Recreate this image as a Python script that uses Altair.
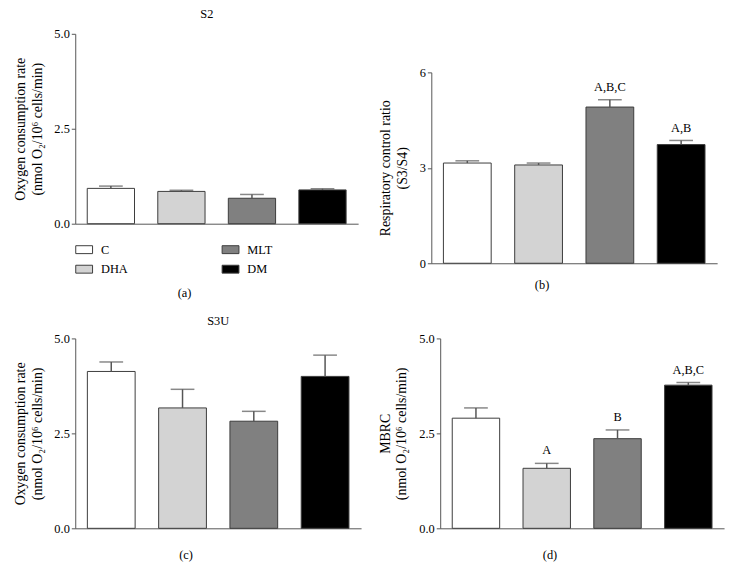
import altair as alt
import pandas as pd

groups = ["C", "DHA", "MLT", "DM"]
fills = ["#ffffff", "#d3d3d3", "#808080", "#000000"]

s2_mean = [0.93, 0.85, 0.67, 0.89]
s2_err = [0.06, 0.03, 0.10, 0.03]

rcr_mean = [3.15, 3.09, 4.91, 3.73]
rcr_err = [0.07, 0.06, 0.23, 0.13]
rcr_sig = ["", "", "A,B,C", "A,B"]

s3u_mean = [4.13, 3.17, 2.82, 4.00]
s3u_err = [0.25, 0.49, 0.26, 0.56]

mbrc_mean = [2.90, 1.58, 2.36, 3.77]
mbrc_err = [0.27, 0.13, 0.23, 0.07]
mbrc_sig = ["", "A", "B", "A,B,C"]

ocr_title = ["Oxygen consumption rate", "(nmol O\u2082/10\u2076 cells/min)"]
rcr_title = ["Respiratory control ratio", "(S3/S4)"]
mbrc_title = ["MBRC", "(nmol O\u2082/10\u2076 cells/min)"]

FONT = "Liberation Serif"
AXC = "#555555"
BAR_STROKE = "#3c3c3c"


def panel(mean, err, sig, ytitle, ymax, yticks, yfmt, width, height,
          title, title_offset, title_dx, xlabel, xlabel_pad,
          legend=False, ytop=0):
    df = pd.DataFrame({
        "group": groups,
        "mean": mean,
        "top": [m + e for m, e in zip(mean, err)],
        "sig": sig,
        "fill": fills,
    })
    x = alt.X("group:N", sort=groups,
              scale=alt.Scale(paddingInner=0.33, paddingOuter=0.17),
              axis=alt.Axis(labels=False, ticks=False, domainColor=AXC,
                            title=xlabel, titlePadding=xlabel_pad,
                            titleFont=FONT, titleFontSize=12.5,
                            titleFontWeight="normal", titleColor="black",
                            titleX=width / 2 - 33))
    y = alt.Y("mean:Q",
              scale=alt.Scale(domain=[0, ymax], nice=False,
                              range=[height, ytop]),
              axis=alt.Axis(values=yticks, format=yfmt, title=ytitle,
                            titleFont=FONT, titleFontSize=14,
                            titleFontWeight="normal", titleColor="black",
                            titlePadding=10, titleLineHeight=17,
                            labelFont=FONT, labelFontSize=12.5,
                            labelColor="black", tickSize=4,
                            tickColor=AXC, domainColor=AXC, grid=False))
    if legend:
        color = alt.Color("group:N",
                          scale=alt.Scale(domain=groups, range=fills),
                          legend=alt.Legend(
                              title=None, orient="none", legendX=0,
                              legendY=height + 17, columns=2,
                              symbolType="M-1,-0.47H1V0.47H-1Z",
                              symbolSize=289, symbolStrokeColor="#444444",
                              symbolStrokeWidth=1, symbolOpacity=1,
                              labelFont=FONT, labelFontSize=12.5,
                              labelColor="black", columnPadding=92,
                              rowPadding=4, labelOffset=8, padding=0))
    else:
        color = alt.Color("fill:N", scale=None)
    base = alt.Chart(df)
    bars = base.mark_bar(stroke=BAR_STROKE, strokeWidth=1).encode(
        x=x, y=y, color=color)
    rule = base.mark_rule(color=AXC, strokeWidth=1.5).encode(
        x=alt.X("group:N", sort=groups), y="mean:Q", y2="top:Q")
    cap = base.mark_tick(color=AXC, size=24, thickness=1.5).encode(
        x=alt.X("group:N", sort=groups), y="top:Q")
    txt = base.mark_text(dy=-6, baseline="bottom", font=FONT, fontSize=12.5,
                         color="black").encode(
        x=alt.X("group:N", sort=groups), y="top:Q", text="sig:N")
    return alt.layer(bars, rule, cap, txt).properties(
        width=width, height=height,
        title=alt.TitleParams(title, font=FONT, fontSize=12.5,
                              fontWeight="normal", color="black",
                              offset=title_offset, dx=title_dx))


pa = panel(s2_mean, s2_err, [""] * 4, ocr_title, 5, [0, 2.5, 5], ".1f",
           286, 192, "S2", 7, -10, "(a)", 64, legend=True)
pb = panel(rcr_mean, rcr_err, rcr_sig, rcr_title, 6, [0, 3, 6], "d",
           289, 232, " ", 7, 0, "(b)", 16, ytop=39)
pc = panel(s3u_mean, s3u_err, [""] * 4, ocr_title, 5, [0, 2.5, 5], ".1f",
           289, 192, "S3U", 5, 0, "(c)", 21)
pd_ = panel(mbrc_mean, mbrc_err, mbrc_sig, mbrc_title, 5, [0, 2.5, 5], ".1f",
            287, 192, " ", 5, 0, "(d)", 21)

chart = alt.vconcat(
    alt.hconcat(pa, pb, spacing=20),
    alt.hconcat(pc, pd_, spacing=17),
    spacing=15,
).configure_view(stroke=None).properties(
    padding={"left": 5, "top": -3, "right": 5, "bottom": 0})

chart.save("out.html", embed_options={"renderer": "svg", "actions": False})
